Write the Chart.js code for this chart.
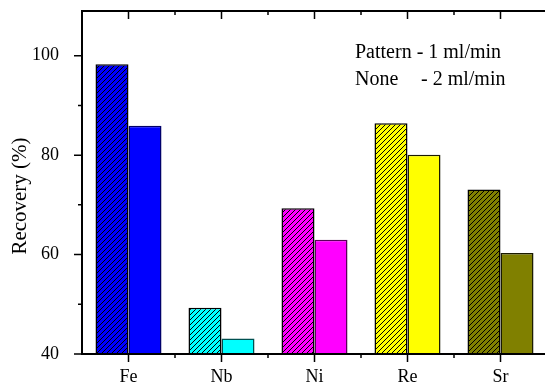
<!DOCTYPE html>
<html>
<head>
<meta charset="utf-8">
<script src="https://cdn.jsdelivr.net/npm/chart.js@4.4.1/dist/chart.umd.min.js"></script>
<style>
    html, body { margin: 0; padding: 0; background: #fff; overflow: hidden; }
    #wrap { position: relative; width: 550px; height: 388px; }
</style>
</head>
<body>
<div id="wrap"><canvas id="recoveryChart"></canvas></div>
<script>
// Chart data
var elements = ['Fe', 'Nb', 'Ni', 'Re', 'Sr'];
var patternValues = [98.3, 49.3, 69.3, 86.4, 73.1];   // 1 ml/min (hatched)
var noneValues = [85.9, 43.1, 63.0, 80.1, 60.3];      // 2 ml/min (plain)
var yMajorTicks = [40, 60, 80, 100];
var yMinorTicks = [50, 70, 90];
var yAxisTitle = 'Recovery (%)';

var fillColors = ['#0000ff', '#00ffff', '#ff00ff', '#ffff00', '#808000'];
var edgeColors = ['#00006a', '#005050', '#5a005a', '#1a1a00', '#1a1a00'];
var serif = '"Liberation Serif", "Times New Roman", serif';

// Build a hatch pattern ("/" lines) over a fill colour
function makeHatch(color) {
    var tile = document.createElement('canvas');
    tile.width = 5;
    tile.height = 5;
    var c = tile.getContext('2d');
    c.fillStyle = color;
    c.fillRect(0, 0, 5, 5);
    c.strokeStyle = '#000';
    c.lineWidth = 1;
    c.beginPath();
    c.moveTo(0, 5); c.lineTo(5, 0);
    c.moveTo(-1, 1); c.lineTo(1, -1);
    c.moveTo(4, 6); c.lineTo(6, 4);
    c.stroke();
    return document.createElement('canvas').getContext('2d').createPattern(tile, 'repeat');
}

var hatchFills = fillColors.map(makeHatch);

// Frame, ticks, axis title and the text note
var framePlugin = {
    id: 'frame',
    afterDraw: function(chart) {
        var ctx = chart.ctx;
        var area = chart.chartArea;
        var xs = chart.scales.x;
        var ys = chart.scales.y;
        ctx.save();
        ctx.strokeStyle = '#000';
        ctx.lineWidth = 2;
        ctx.strokeRect(area.left, area.top, area.right - area.left, area.bottom - area.top);

        ctx.lineWidth = 1.5;
        ctx.beginPath();
        // left axis ticks (outward)
        yMajorTicks.forEach(function(v) {
            var y = ys.getPixelForValue(v);
            ctx.moveTo(area.left, y); ctx.lineTo(area.left - 8, y);
        });
        yMinorTicks.forEach(function(v) {
            var y = ys.getPixelForValue(v);
            ctx.moveTo(area.left, y); ctx.lineTo(area.left - 4, y);
        });
        // category ticks top (inward) and bottom (outward)
        var step = (area.right - area.left) / elements.length;
        elements.forEach(function(name, i) {
            var x = xs.getPixelForValue(i);
            ctx.moveTo(x, area.bottom); ctx.lineTo(x, area.bottom + 8);
            ctx.moveTo(x, area.top); ctx.lineTo(x, area.top + 8);
            if (i > 0) {
                var xb = area.left + step * i;
                ctx.moveTo(xb, area.bottom); ctx.lineTo(xb, area.bottom + 4);
                ctx.moveTo(xb, area.top); ctx.lineTo(xb, area.top + 4);
            }
        });
        ctx.stroke();

        // y axis title
        ctx.fillStyle = '#000';
        ctx.font = '21px ' + serif;
        ctx.textAlign = 'center';
        ctx.textBaseline = 'middle';
        ctx.translate(20, 196);
        ctx.rotate(-Math.PI / 2);
        ctx.fillText(yAxisTitle, 0, 0);
        ctx.restore();

        // note in the upper right
        ctx.save();
        ctx.fillStyle = '#000';
        ctx.font = '20px ' + serif;
        ctx.textAlign = 'left';
        ctx.textBaseline = 'alphabetic';
        ctx.fillText('Pattern - 1 ml/min', 355, 58);
        ctx.fillText('None', 355, 85);
        ctx.fillText('- 2 ml/min', 421, 85);
        ctx.restore();
    }
};

var ctx = document.getElementById('recoveryChart').getContext('2d');
var recoveryChart = new Chart(ctx, {
    type: 'bar',
    data: {
        labels: elements,
        datasets: [{
            label: 'Pattern - 1 ml/min',
            data: patternValues,
            backgroundColor: hatchFills,
            borderColor: '#000',
            borderWidth: 1.5
        }, {
            label: 'None - 2 ml/min',
            data: noneValues,
            backgroundColor: fillColors,
            borderColor: edgeColors,
            borderWidth: 1.5
        }]
    },
    options: {
        responsive: true,
        maintainAspectRatio: false,
        animation: false,
        layout: {
            padding: { top: 11, right: 3, left: 0, bottom: 0 }
        },
        datasets: {
            bar: {
                categoryPercentage: 0.71,
                barPercentage: 1.0
            }
        },
        plugins: {
            legend: { display: false },
            tooltip: { enabled: false }
        },
        scales: {
            x: {
                grid: { display: false },
                border: { display: false },
                ticks: {
                    color: '#000',
                    font: { family: serif, size: 18 },
                    padding: 4,
                    maxRotation: 0
                },
                afterFit: function(scale) {
                    scale.height = 34;
                    scale.paddingLeft = 0;
                    scale.paddingRight = 0;
                }
            },
            y: {
                min: 40,
                max: 109,
                grid: { display: false },
                border: { display: false },
                ticks: {
                    color: '#000',
                    font: { family: serif, size: 18 },
                    padding: 15
                },
                afterBuildTicks: function(scale) {
                    scale.ticks = yMajorTicks.map(function(v) { return { value: v }; });
                },
                afterFit: function(scale) {
                    scale.width = 82;
                    scale.paddingTop = 0;
                    scale.paddingBottom = 0;
                }
            }
        }
    },
    plugins: [framePlugin]
});
</script>
</body>
</html>
